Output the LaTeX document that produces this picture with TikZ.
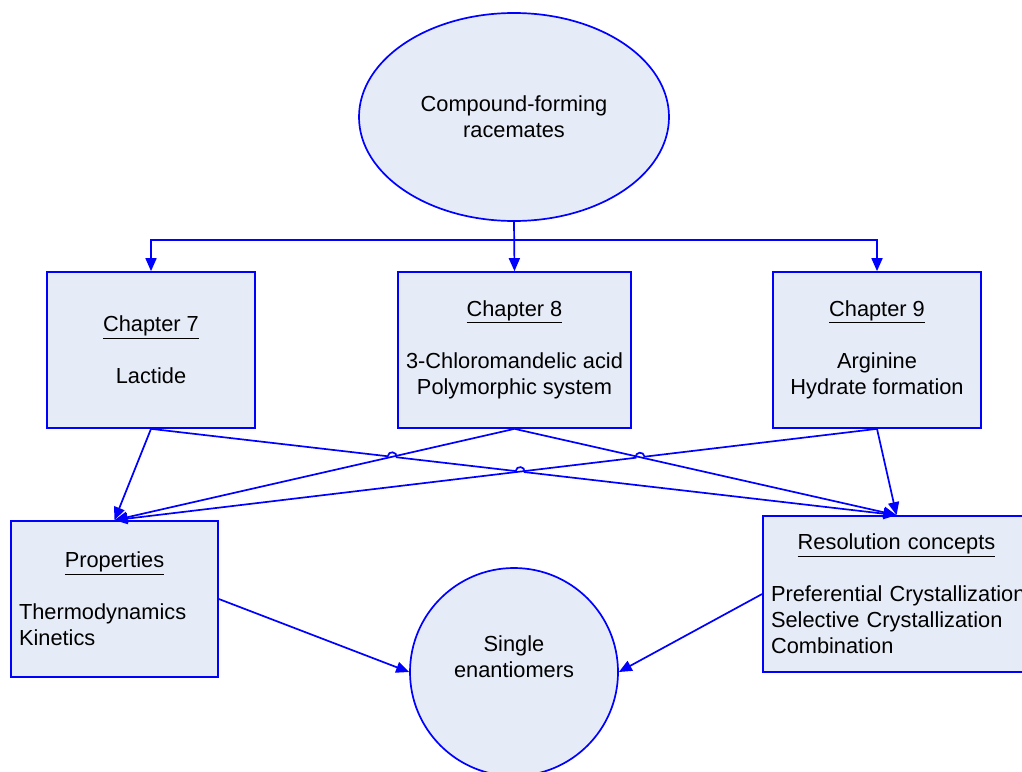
\documentclass[tikz,border=0pt]{standalone}
\usepackage{fontspec}
\setmainfont{Liberation Sans}
\usetikzlibrary{arrows.meta,shapes.geometric,calc,intersections}
\definecolor{shapefill}{RGB}{230,236,247}
\definecolor{edgeblue}{RGB}{0,0,255}
\tikzset{
  base/.style={draw=edgeblue, line width=1.7pt, fill=shapefill, inner sep=0pt,
    font=\fontsize{21.8}{26}\selectfont},
  chapbox/.style={base, rectangle, minimum height=156pt, align=center},
  listbox/.style={base, rectangle, minimum height=156pt, align=left, inner xsep=8pt},
  link/.style={draw=edgeblue, line width=1.7pt, -{Triangle[length=13pt,width=11pt]}},
  plain/.style={font=\fontsize{21.8}{26}\selectfont, align=center, inner sep=0pt}
}
\begin{document}
\begin{tikzpicture}[x=1pt,y=-1pt]
\useasboundingbox (0,0) rectangle (1022,771);

% top: the class of racemates
\node[base, ellipse, minimum width=310pt, minimum height=208pt, align=center]
  (top) at (514,117) {Compound-forming\\racemates};

% the three chapters
\node[chapbox, minimum width=208pt] (ch7) at (151,350)
  {\underline{Chapter 7}\\ \strut\\ Lactide};
\node[chapbox, minimum width=233pt] (ch8) at (514.5,350)
  {\underline{Chapter 8}\\ \strut\\ 3-Chloromandelic acid\\ Polymorphic system};
\node[chapbox, minimum width=208pt] (ch9) at (877,350)
  {\underline{Chapter 9}\\ \strut\\ Arginine\\ Hydrate formation};

% outcome boxes
\node[listbox, minimum width=207pt, text width=191pt] (prop) at (114.5,599)
  {\makebox[\linewidth]{\underline{Properties}}\\ \strut\\ Thermodynamics\\ Kinetics};
\node[listbox, minimum width=267pt, text width=251pt] (res) at (896.5,594)
  {\makebox[\linewidth]{\underline{Resolution concepts}}\\ \strut\\
   \mbox{Preferential Crystallization}\\ \mbox{Selective Crystallization}\\ Combination};

% goal
\node[base, circle, minimum size=208pt] (single) at (514,672) {};
\node[plain] (singletext) at (514,657) {Single\\enantiomers};

% distribution from the top ellipse
\coordinate (split) at (514,240);
\draw[link] (top.south) -- (ch8.north);
\draw[link] (split) -| (ch7.north);
\draw[link] (split) -| (ch9.north);

% crossing lines and their intersections
\path[name path=p7r] (ch7.south) -- (res.north);
\path[name path=p8p] (ch8.south) -- (prop.north);
\path[name path=p9p] (ch9.south) -- (prop.north);
\path[name path=p8r] (ch8.south) -- (res.north);
\path[name intersections={of=p7r and p8p, by=xa}];
\path[name intersections={of=p7r and p9p, by=xb}];
\path[name intersections={of=p8r and p9p, by=xc}];

% hop end points (L = left side, R = right side) and their control points
\coordinate (xaL) at ($(xa)!4.5pt!(ch7.south)$);
\coordinate (xaR) at ($(xa)!4.5pt!(res.north)$);
\coordinate (xbL) at ($(xb)!4.5pt!(ch7.south)$);
\coordinate (xbR) at ($(xb)!4.5pt!(res.north)$);
\coordinate (xcL) at ($(xc)!4.5pt!(prop.north)$);
\coordinate (xcR) at ($(xc)!4.5pt!(ch9.south)$);
\foreach \h in {xa,xb,xc}{
  \coordinate (\h uL) at ($(\h L)!6pt!90:(\h)$);
  \coordinate (\h uR) at ($(\h R)!6pt!-90:(\h)$);
}

\draw[link] (ch7.south) -- (prop.north);
\draw[link] (ch7.south) -- (xaL) .. controls (xauL) and (xauR) .. (xaR)
  -- (xbL) .. controls (xbuL) and (xbuR) .. (xbR) -- (res.north);
\draw[link] (ch8.south) -- (prop.north);
\draw[link] (ch8.south) -- (res.north);
\draw[link] (ch9.south) -- (xcR) .. controls (xcuR) and (xcuL) .. (xcL) -- (prop.north);
\draw[link] (ch9.south) -- (res.north);

% into the goal
\draw[link] (prop.east) -- (single.west);
\draw[link] (res.west) -- (single.east);
\end{tikzpicture}
\end{document}
